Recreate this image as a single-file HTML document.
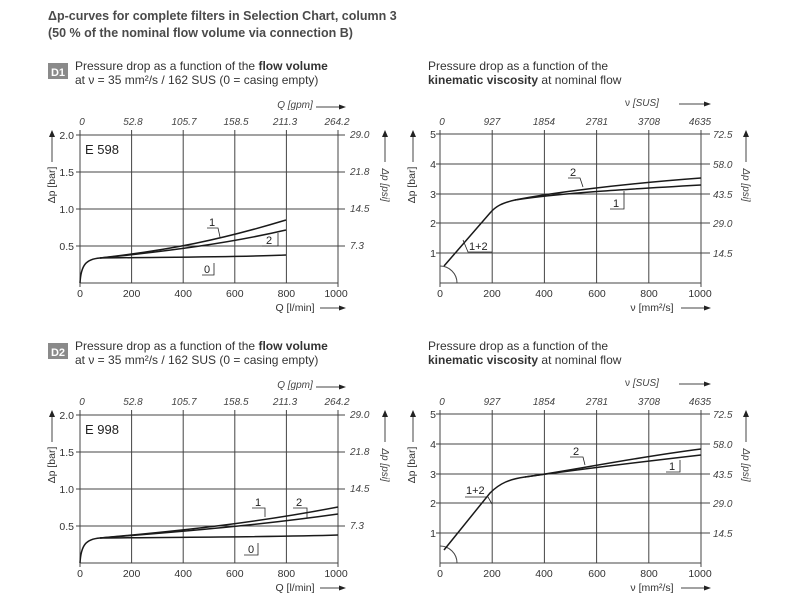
<!DOCTYPE html>
<html><head><meta charset="utf-8"><style>
body{margin:0;background:#fff;}
svg{display:block;font-family:"Liberation Sans",sans-serif;}
.h{font-size:12.5px;font-weight:bold;fill:#4a4a4a;}
.t{font-size:12px;fill:#333;}
.tk{font-size:10.5px;fill:#333;}
.it{font-size:10px;fill:#444;font-style:italic;}
.g{stroke:#444;stroke-width:1;fill:none;}
.c{stroke:#1a1a1a;stroke-width:1.5;fill:none;}
.l{stroke:#222;stroke-width:0.8;fill:none;}
.lb{font-size:11px;fill:#222;}
</style></head><body>
<svg width="800" height="600" viewBox="0 0 800 600">
<defs>
<g id="leftaxes">
 <g class="g">
  <line x1="80" y1="130" x2="80" y2="287"/>
  <line x1="131.6" y1="130" x2="131.6" y2="283"/>
  <line x1="183.2" y1="130" x2="183.2" y2="283"/>
  <line x1="234.8" y1="130" x2="234.8" y2="283"/>
  <line x1="286.4" y1="130" x2="286.4" y2="283"/>
  <line x1="338" y1="130" x2="338" y2="287"/>
  <line x1="76" y1="135" x2="345" y2="135"/>
  <line x1="76" y1="172" x2="345" y2="172"/>
  <line x1="76" y1="209" x2="345" y2="209"/>
  <line x1="76" y1="246" x2="345" y2="246"/>
  <line x1="80" y1="283" x2="338" y2="283"/>
  <line x1="52" y1="137" x2="52" y2="162"/>
  <line x1="385" y1="137" x2="385" y2="162"/>
  <line x1="316" y1="107" x2="340" y2="107"/>
  <line x1="320" y1="308" x2="340" y2="308"/>
 </g>
 <polygon points="52,130 49,137 55,137" fill="#222"/>
 <polygon points="385,130 382,137 388,137" fill="#222"/>
 <polygon points="346,107 339,104.5 339,109.5" fill="#222"/>
 <polygon points="346,308 339,305.5 339,310.5" fill="#222"/>
 <g class="tk" text-anchor="end">
  <text x="74" y="139">2.0</text><text x="74" y="176">1.5</text><text x="74" y="213">1.0</text><text x="74" y="250">0.5</text>
 </g>
 <g class="tk" text-anchor="middle">
  <text x="80" y="297">0</text><text x="131.6" y="297">200</text><text x="183.2" y="297">400</text><text x="234.8" y="297">600</text><text x="286.4" y="297">800</text><text x="336" y="297">1000</text>
 </g>
 <g class="it" text-anchor="middle">
  <text x="82" y="125">0</text><text x="133" y="125">52.8</text><text x="184" y="125">105.7</text><text x="236" y="125">158.5</text><text x="285" y="125">211.3</text><text x="337" y="125">264.2</text>
  <text x="295" y="108">Q [gpm]</text>
 </g>
 <g class="it">
  <text x="350" y="138">29.0</text><text x="350" y="175">21.8</text><text x="350" y="212">14.5</text><text x="350" y="249">7.3</text>
 </g>
 <text class="tk" x="295" y="311" text-anchor="middle">Q [l/min]</text>
 <text class="tk" transform="translate(55,185) rotate(-90)" text-anchor="middle" font-size="10">Δp [bar]</text>
 <text class="it" transform="translate(382,185) rotate(90)" text-anchor="middle">Δp [psi]</text>
</g>
<g id="rightaxes">
 <g class="g">
  <line x1="440" y1="130" x2="440" y2="287"/>
  <line x1="492.2" y1="130" x2="492.2" y2="283"/>
  <line x1="544.4" y1="130" x2="544.4" y2="283"/>
  <line x1="596.6" y1="130" x2="596.6" y2="283"/>
  <line x1="648.8" y1="130" x2="648.8" y2="283"/>
  <line x1="701" y1="130" x2="701" y2="287"/>
  <line x1="436" y1="134" x2="710" y2="134"/>
  <line x1="436" y1="164" x2="710" y2="164"/>
  <line x1="436" y1="194" x2="710" y2="194"/>
  <line x1="436" y1="223" x2="710" y2="223"/>
  <line x1="436" y1="253" x2="710" y2="253"/>
  <line x1="440" y1="283" x2="701" y2="283"/>
  <line x1="413" y1="137" x2="413" y2="162"/>
  <line x1="746" y1="137" x2="746" y2="162"/>
  <line x1="679" y1="104" x2="705" y2="104"/>
  <line x1="681" y1="308" x2="705" y2="308"/>
  <path d="M440,266 A17,17 0 0 1 457,283"/>
 </g>
 <polygon points="413,130 410,137 416,137" fill="#222"/>
 <polygon points="746,130 743,137 749,137" fill="#222"/>
 <polygon points="711,104 704,101.5 704,106.5" fill="#222"/>
 <polygon points="711,308 704,305.5 704,310.5" fill="#222"/>
 <g class="tk" text-anchor="middle">
  <text x="433" y="138">5</text><text x="433" y="168">4</text><text x="433" y="198">3</text><text x="433" y="227">2</text><text x="433" y="257">1</text>
  <text x="440" y="297">0</text><text x="492" y="297">200</text><text x="544" y="297">400</text><text x="597" y="297">600</text><text x="649" y="297">800</text><text x="700" y="297">1000</text>
 </g>
 <g class="it" text-anchor="middle">
  <text x="442" y="125">0</text><text x="492" y="125">927</text><text x="544" y="125">1854</text><text x="597" y="125">2781</text><text x="649" y="125">3708</text><text x="700" y="125">4635</text>
 </g>
 <text class="it" x="642" y="106" text-anchor="middle"><tspan font-style="normal">ν</tspan> [SUS]</text>
 <g class="it">
  <text x="713" y="138">72.5</text><text x="713" y="168">58.0</text><text x="713" y="198">43.5</text><text x="713" y="227">29.0</text><text x="713" y="257">14.5</text>
 </g>
 <text class="tk" x="652" y="311" text-anchor="middle">ν  [mm²/s]</text>
 <text class="tk" transform="translate(415,185) rotate(-90)" text-anchor="middle" font-size="10">Δp [bar]</text>
 <text class="it" transform="translate(743,185) rotate(90)" text-anchor="middle">Δp [psi]</text>
</g>
</defs>

<text class="h" x="48" y="20">Δp-curves for complete filters in Selection Chart, column 3</text>
<text class="h" x="48" y="37">(50 % of the nominal flow volume via connection B)</text>

<rect x="48" y="63" width="20" height="16" fill="#8a8a8a"/>
<text x="58" y="76" font-size="11" font-weight="bold" fill="#fff" text-anchor="middle">D1</text>
<text class="t" x="75" y="70">Pressure drop as a function of the <tspan font-weight="bold">flow volume</tspan></text>
<text class="t" x="75" y="84">at ν = 35 mm²/s / 162 SUS (0 = casing empty)</text>
<text class="t" x="428" y="70">Pressure drop as a function of the</text>
<text class="t" x="428" y="84"><tspan font-weight="bold">kinematic viscosity</tspan> at nominal flow</text>

<use href="#leftaxes"/>
<text x="85" y="154" font-size="13" fill="#222">E 598</text>
<path class="c" d="M80,283 C81,265 86,259 100,258 C180,257 240,257 286,255"/>
<path class="c" d="M100,258 C170,250 220,240 286,220"/>
<path class="c" d="M100,258 C170,251 230,243 286,230"/>
<path class="l" d="M207,228 H218 L220,237"/><text class="lb" x="209" y="226">1</text>
<path class="l" d="M262,246 H278 V233"/><text class="lb" x="266" y="244">2</text>
<path class="l" d="M202,275 H214 V263"/><text class="lb" x="204" y="273">0</text>

<use href="#rightaxes"/>
<path class="c" d="M444,266 L490,213 C496,206 502,203 515,200 C550,193 620,184 701,178"/>
<path class="c" d="M515,200 C560,193 630,189 701,185"/>
<path class="l" d="M463,240 L468,252 H492"/><text class="lb" x="469" y="250">1+2</text>
<path class="l" d="M568,178 H580 L583,187"/><text class="lb" x="570" y="176">2</text>
<path class="l" d="M610,209 H624 V191"/><text class="lb" x="613" y="207">1</text>

<rect x="48" y="343" width="20" height="16" fill="#8a8a8a"/>
<text x="58" y="356" font-size="11" font-weight="bold" fill="#fff" text-anchor="middle">D2</text>
<text class="t" x="75" y="350">Pressure drop as a function of the <tspan font-weight="bold">flow volume</tspan></text>
<text class="t" x="75" y="364">at ν = 35 mm²/s / 162 SUS (0 = casing empty)</text>
<text class="t" x="428" y="350">Pressure drop as a function of the</text>
<text class="t" x="428" y="364"><tspan font-weight="bold">kinematic viscosity</tspan> at nominal flow</text>

<g transform="translate(0,280)">
<use href="#leftaxes"/>
<text x="85" y="154" font-size="13" fill="#222">E 998</text>
<path class="c" d="M80,283 C81,265 86,259 100,258 C200,257 280,257 338,255"/>
<path class="c" d="M100,258 C190,250 260,242 338,227"/>
<path class="c" d="M100,258 C190,251 260,245 338,234"/>
<path class="l" d="M252,228 H265 V237"/><text class="lb" x="255" y="226">1</text>
<path class="l" d="M293,228 H307 V238"/><text class="lb" x="296" y="226">2</text>
<path class="l" d="M244,275 H258 V263"/><text class="lb" x="248" y="273">0</text>

<use href="#rightaxes"/>
<path class="c" d="M444,270 L490,213 C500,203 510,199 525,197 C570,191 630,178 701,169"/>
<path class="c" d="M525,197 C575,190 640,182 701,175"/>
<path class="l" d="M465,217 H488 L492,224"/><text class="lb" x="466" y="214">1+2</text>
<path class="l" d="M570,177 H583 L585,185"/><text class="lb" x="573" y="175">2</text>
<path class="l" d="M666,192 H680 V180"/><text class="lb" x="669" y="190">1</text>
</g>
</svg>
</body></html>
